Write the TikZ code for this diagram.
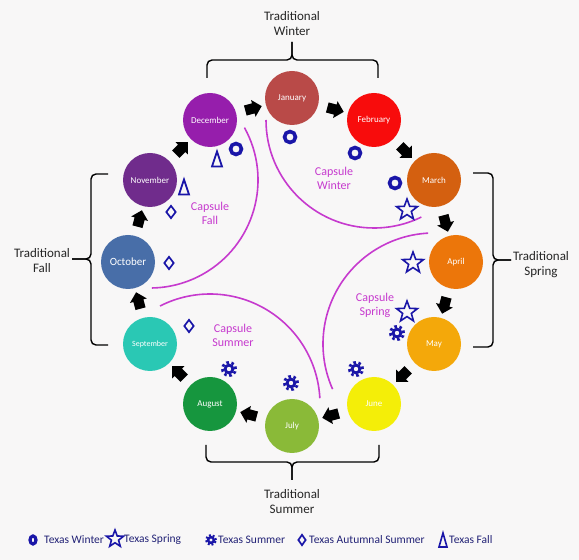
\documentclass[tikz,border=0pt]{standalone}
\usepackage{fontspec}
\setmainfont{Carlito}
\usetikzlibrary{calc,shapes.geometric,shapes.arrows}

\definecolor{paper}{RGB}{248,247,247}
\definecolor{capsule}{RGB}{198,58,206}
\definecolor{texblue}{RGB}{26,22,168}
\definecolor{legendink}{RGB}{34,34,118}
\definecolor{janred}{RGB}{185,74,72}
\definecolor{febred}{RGB}{248,12,12}
\definecolor{marorange}{RGB}{212,96,16}
\definecolor{aprorange}{RGB}{236,118,10}
\definecolor{mayamber}{RGB}{244,168,10}
\definecolor{junyellow}{RGB}{244,238,8}
\definecolor{julgreen}{RGB}{138,186,56}
\definecolor{auggreen}{RGB}{22,150,62}
\definecolor{septeal}{RGB}{42,200,180}
\definecolor{octblue}{RGB}{72,110,168}
\definecolor{novpurple}{RGB}{112,44,140}
\definecolor{decpurple}{RGB}{150,30,172}

\tikzset{
	month/.style={circle, minimum size=54pt, inner sep=0pt, text=white, font=\fontsize{9}{10}\selectfont},
	monthstep/.style={single arrow, fill=black, minimum height=17pt, single arrow head extend=3.5pt, inner xsep=2pt, inner ysep=5pt},
	capsulearc/.style={draw=capsule, line width=1.6pt},
	capsulelabel/.style={text=capsule, align=center, font=\fontsize{12}{14}\selectfont},
	tradlabel/.style={align=center, text=black!85, font=\fontsize{13}{15}\selectfont},
	bracket/.style={line width=1.4pt, rounded corners=5pt},
	wintermark/.style={circle, draw=texblue, line width=3.6pt, minimum size=11pt, inner sep=0pt},
	springmark/.style={star, star points=5, star point ratio=2.4, draw=texblue, line width=1.6pt, minimum size=22pt, inner sep=0pt},
	automark/.style={diamond, draw=texblue, line width=1.7pt, minimum width=10pt, minimum height=13pt, inner sep=0pt},
	legendtext/.style={anchor=west, inner sep=0pt, text=legendink, font=\fontsize{11.5}{13}\selectfont}
}

\def\summermark(#1,#2){\fill[texblue] (#1,#2) circle (5.4); \draw[texblue, line width=2.8pt, dash pattern=on 2.59pt off 2.59pt] (#1,#2) circle (6.6); \fill[paper] (#1,#2) circle (2.2);}
\def\fallmark(#1,#2){\draw[texblue, line width=1.8pt] (#1-5,#2-7.5) -- (#1,#2+7.5) -- (#1+5,#2-7.5) -- cycle;}

\begin{document}
\begin{tikzpicture}[x=1pt, y=1pt]
	%%%%% START %%%%%
	\fill[paper] (0,0) rectangle (579,560);
	\useasboundingbox (0,0) rectangle (579,560);
	
	% the twelve months
	\node[month, fill=janred] (jan) at (292,462) {January};
	\node[month, fill=febred] (feb) at (374,440) {February};
	\node[month, fill=marorange] (mar) at (434,380) {March};
	\node[month, fill=aprorange] (apr) at (456,298) {April};
	\node[month, fill=mayamber] (may) at (434,216) {May};
	\node[month, fill=junyellow] (jun) at (374,156) {June};
	\node[month, fill=julgreen] (jul) at (292,134) {July};
	\node[month, fill=auggreen] (aug) at (210,156) {August};
	\node[month, fill=septeal, font=\fontsize{8}{9}\selectfont] (sep) at (150,216) {September};
	\node[month, fill=octblue, font=\fontsize{11}{12}\selectfont] (oct) at (128,298) {October};
	\node[month, fill=novpurple] (nov) at (150,380) {November};
	\node[month, fill=decpurple] (dec) at (210,440) {December};
	
	% steps from month to month
	\node[monthstep, rotate=15] (decjan) at ($(dec)!0.5!(jan)$) {};
	\node[monthstep, rotate=-15] (janfeb) at ($(jan)!0.5!(feb)$) {};
	\node[monthstep, rotate=-45] (febmar) at ($(feb)!0.5!(mar)$) {};
	\node[monthstep, rotate=-75] (marapr) at ($(mar)!0.5!(apr)$) {};
	\node[monthstep, rotate=-105] (aprmay) at ($(apr)!0.5!(may)$) {};
	\node[monthstep, rotate=-135] (mayjun) at ($(may)!0.5!(jun)$) {};
	\node[monthstep, rotate=-165] (junjul) at ($(jun)!0.5!(jul)$) {};
	\node[monthstep, rotate=165] (julaug) at ($(jul)!0.5!(aug)$) {};
	\node[monthstep, rotate=135] (augsep) at ($(aug)!0.5!(sep)$) {};
	\node[monthstep, rotate=105] (sepoct) at ($(sep)!0.5!(oct)$) {};
	\node[monthstep, rotate=75] (octnov) at ($(oct)!0.5!(nov)$) {};
	\node[monthstep, rotate=45] (novdec) at ($(nov)!0.5!(dec)$) {};
	
	% capsule seasons
	\draw[capsulearc] ($(nov)+(29:108)$) arc (29:-89:108);
	\draw[capsulearc] ($(feb)+(180:108)$) arc (180:296:108);
	\draw[capsulearc] ($(may)+(93:111)$) arc (93:204:111);
	\draw[capsulearc] ($(aug)+(117:110)$) arc (117:3:110);
	\node[capsulelabel] (capwinter) at (334,382) {Capsule\\Winter};
	\node[capsulelabel] (capfall) at (210,347) {Capsule\\Fall};
	\node[capsulelabel] (capspring) at (375,255) {Capsule\\Spring};
	\node[capsulelabel] (capsummer) at (233,225) {Capsule\\Summer};
	
	% texas seasons
	\node[wintermark] (tw1) at (290,423) {};
	\node[wintermark] (tw2) at (355,407) {};
	\node[wintermark] (tw3) at (236,411) {};
	\node[wintermark] (tw4) at (395,377) {};
	\node[springmark] (ts1) at (407,350) {};
	\node[springmark] (ts2) at (413,297) {};
	\node[springmark] (ts3) at (407,248) {};
	\summermark(397,227)
	\summermark(356,191)
	\summermark(291,177)
	\summermark(229,191)
	\node[automark] (ta1) at (171,348) {};
	\node[automark] (ta2) at (169,297) {};
	\node[automark] (ta3) at (189,234) {};
	\fallmark(217,401)
	\fallmark(184,373)
	
	% traditional seasons
	\draw[bracket] (207,482) -- (207,500) -- (292,500) -- (292,518);
	\draw[bracket] (378,482) -- (378,500) -- (292,500) -- (292,518);
	\node[tradlabel] (tradwinter) at (292,536) {Traditional\\Winter};
	
	\draw[bracket] (473,387) -- (493,387) -- (493,300) -- (511,300);
	\draw[bracket] (473,213) -- (493,213) -- (493,300) -- (511,300);
	\node[tradlabel] (tradspring) at (541,295) {Traditional\\Spring};
	
	\draw[bracket] (206,115) -- (206,98) -- (292,98) -- (292,80);
	\draw[bracket] (379,115) -- (379,98) -- (292,98) -- (292,80);
	\node[tradlabel] (tradsummer) at (292,58) {Traditional\\Summer};
	
	\draw[bracket] (108,386) -- (91,386) -- (91,301) -- (72,301);
	\draw[bracket] (108,215) -- (91,215) -- (91,301) -- (72,301);
	\node[tradlabel] (tradfall) at (42,299) {Traditional\\Fall};
	
	% legend
	\draw[texblue, line width=3.2pt] (33,20) ellipse (3 and 4);
	\node[legendtext] (lgwinter) at (44,20) {Texas Winter};
	\node[springmark, minimum size=18pt] (lgstar) at (115,21) {};
	\node[legendtext] (lgspring) at (124,20) {Texas Spring};
	\fill[texblue] (211,20) circle (4.1);
	\draw[texblue, line width=2.1pt, dash pattern=on 1.96pt off 1.96pt] (211,20) circle (5);
	\fill[paper] (211,20) circle (1.6);
	\node[legendtext] (lgsummer) at (218,20) {Texas Summer};
	\node[automark, minimum width=8pt, minimum height=11pt] (lgdiamond) at (302,20) {};
	\node[legendtext] (lgautumn) at (309,20) {Texas Autumnal Summer};
	\draw[texblue, line width=1.6pt] (439,13) -- (443,27) -- (447,13) -- cycle;
	\node[legendtext] (lgfall) at (449,20) {Texas Fall};
	
	%%%%% END %%%%%
\end{tikzpicture}
\end{document}
